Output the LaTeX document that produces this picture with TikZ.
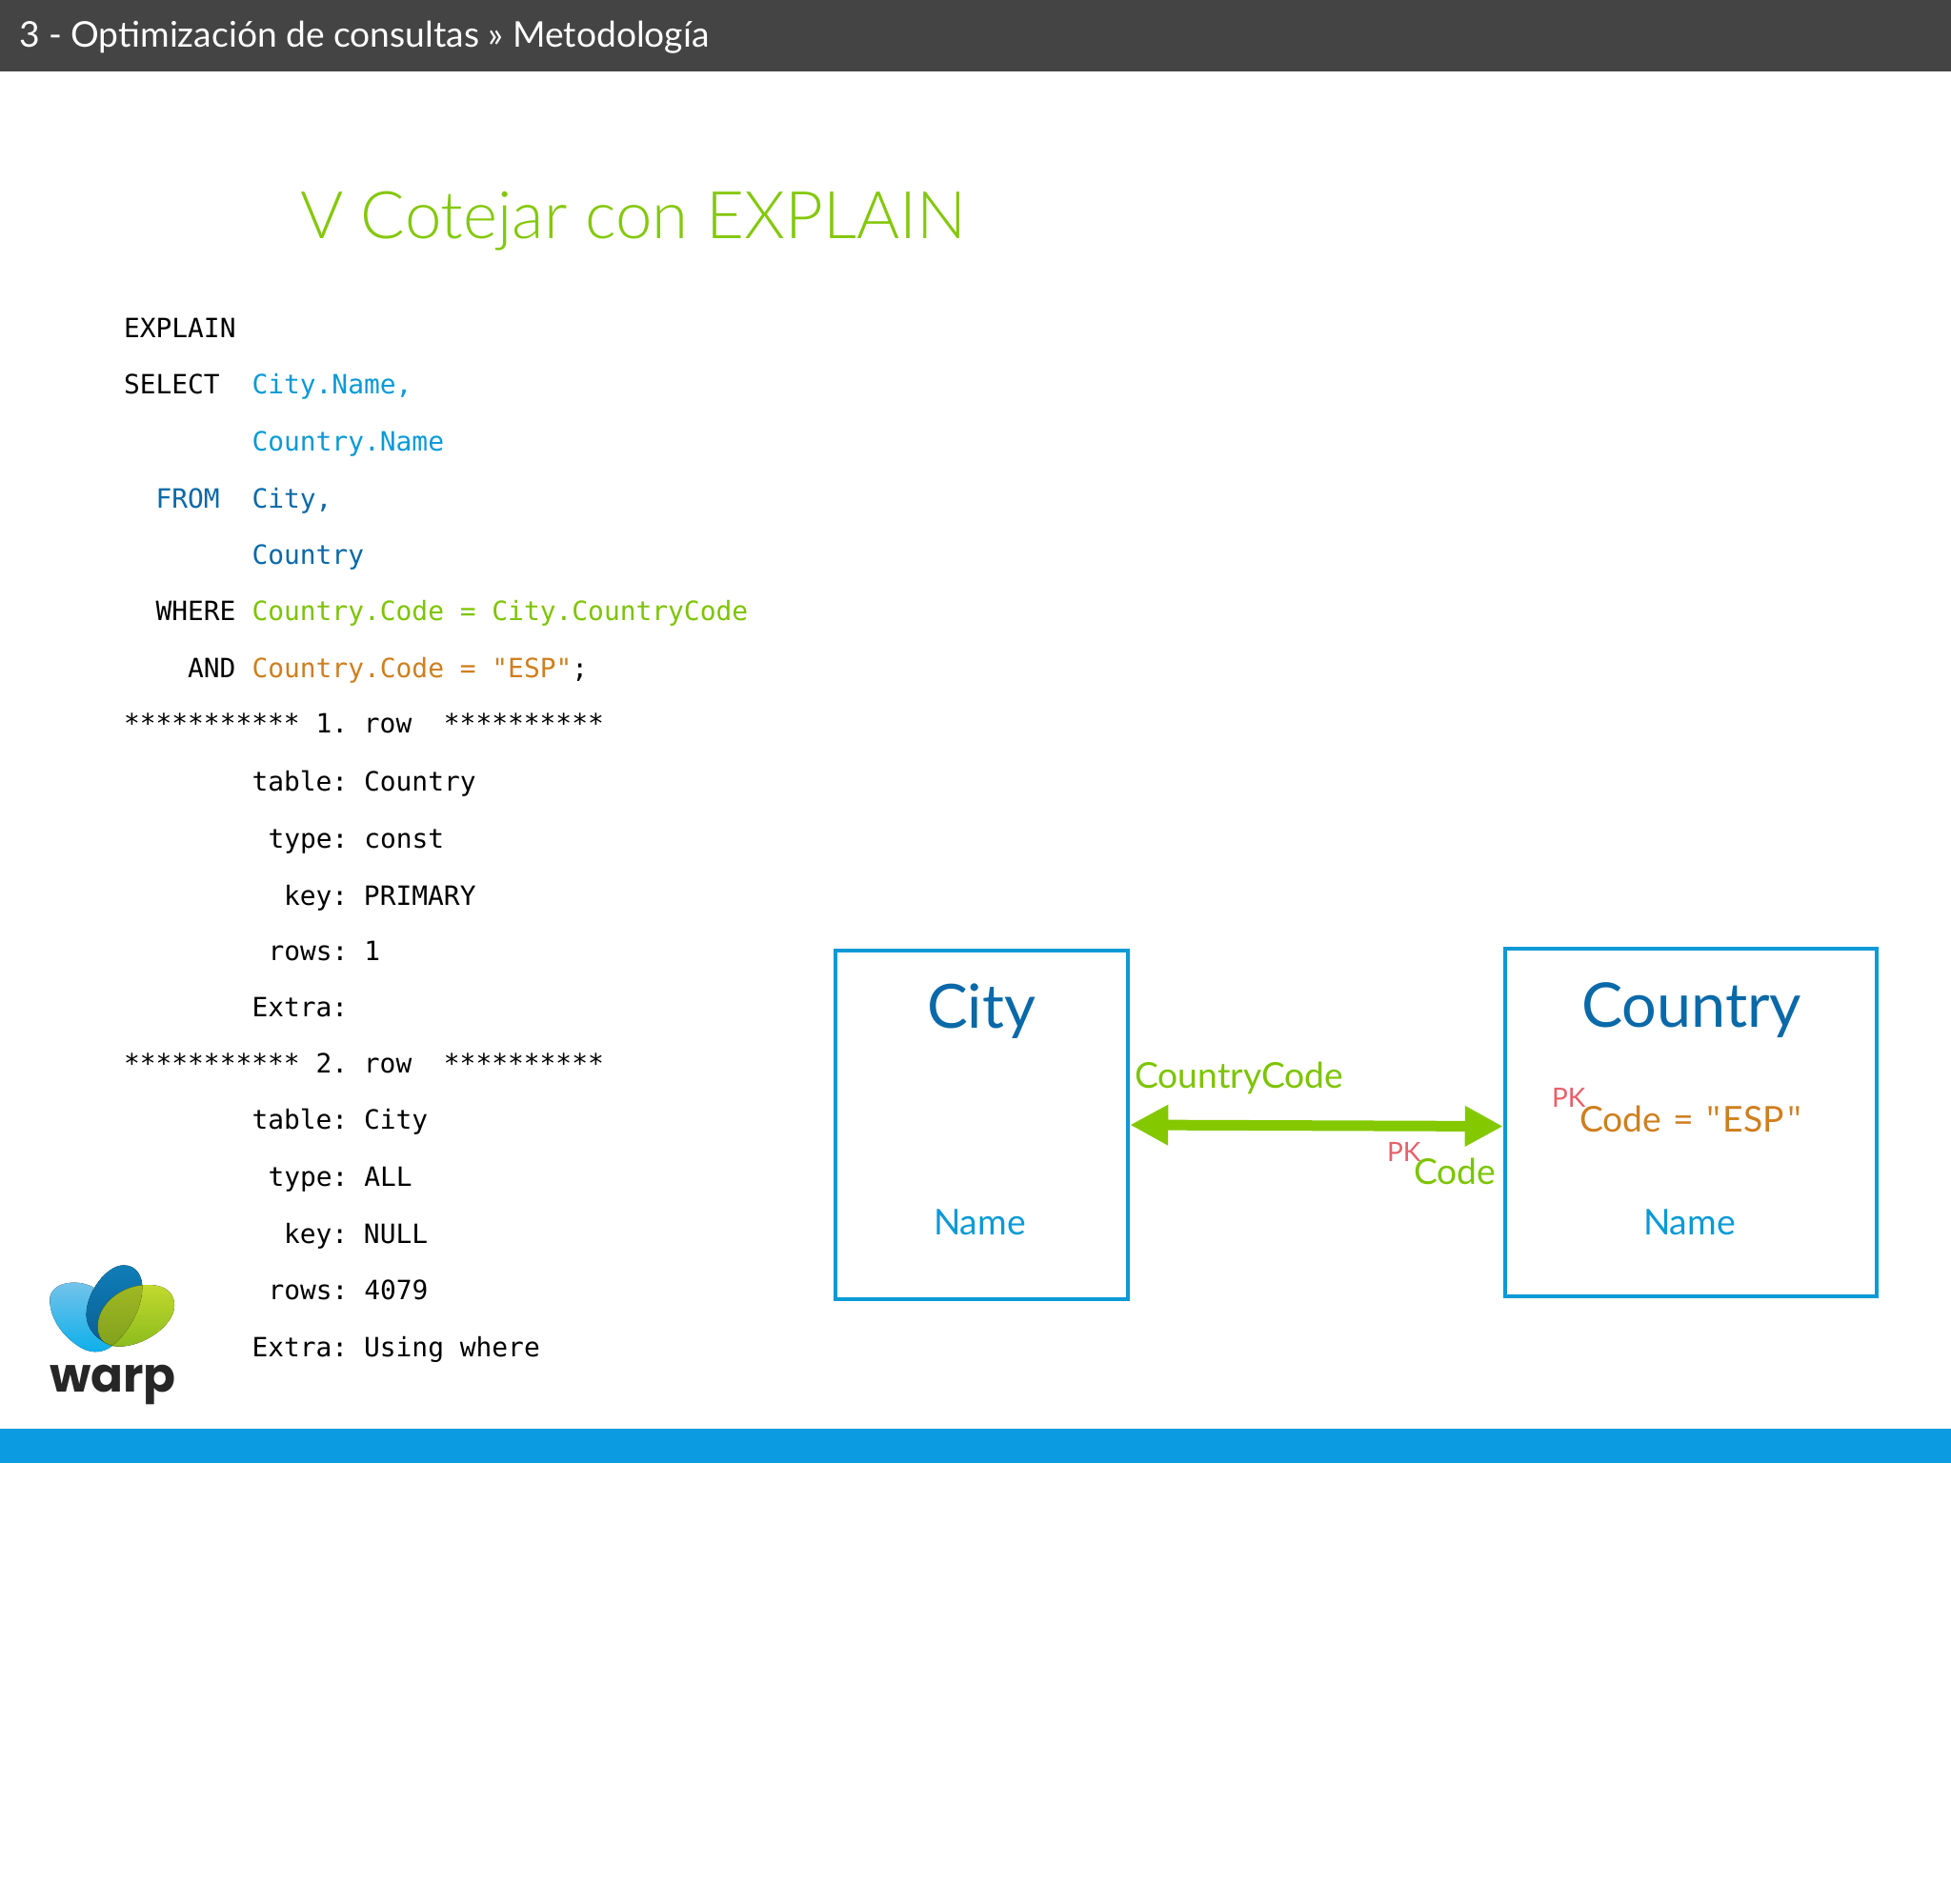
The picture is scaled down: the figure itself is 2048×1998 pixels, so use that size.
\documentclass[tikz,border=0pt]{standalone}
\usepackage{fontspec}
\setmainfont{Lato}
\newfontfamily\lightfont{Lato Light}
\newfontfamily\quotefont{Open Sans}
\setmonofont{DejaVu Sans Mono}
\newfontfamily\logofont{Poppins}
\usetikzlibrary{arrows.meta,calc}
\definecolor{hdr}{HTML}{444444}
\definecolor{barblue}{HTML}{0A9BE0}
\definecolor{lblue}{HTML}{0A9AD6}
\definecolor{dblue}{HTML}{0A69A8}
\definecolor{lgreen}{HTML}{7DC400}
\definecolor{arrowgreen}{HTML}{84C800}
\definecolor{titlegreen}{HTML}{84C80A}
\definecolor{orng}{HTML}{CF7F1E}
\definecolor{pink}{HTML}{E8606A}
\definecolor{lf1}{HTML}{C2D92E}
\definecolor{lf2}{HTML}{8ABB1C}
\definecolor{lo1}{HTML}{A0B822}
\definecolor{lo2}{HTML}{7FA01E}
\definecolor{lb1}{HTML}{79C4EA}
\definecolor{lb2}{HTML}{0AAFEA}
\definecolor{ld1}{HTML}{0F7DB8}
\definecolor{ld2}{HTML}{0B5E92}
\newcommand{\fs}[1]{\fontsize{#1}{#1}\selectfont}
\tikzset{
  txt/.style={anchor=base west,inner sep=0pt,outer sep=0pt},
  code/.style={txt,font=\ttfamily\fs{27.9}},
  lab/.style={txt,font=\fs{37.3}},
  pk/.style={txt,font=\fs{28},text=pink},
  tablebox/.style={draw=lblue,line width=4.5pt,rectangle,inner sep=0pt,fill=none},
  link/.style={draw=arrowgreen,line width=11pt,{Triangle[length=40pt,width=40pt]}-{Triangle[length=40pt,width=40pt]}}
}
\begin{document}
\begin{tikzpicture}[x=1pt,y=-1pt]
\useasboundingbox (0,0) rectangle (2048,1998);
\fill[white] (0,0) rectangle (2048,1998);
\fill[hdr] (0,0) rectangle (2048,75);
\fill[barblue] (0,1500) rectangle (2048,1536);
\node[txt,text=white,font=\fs{37.2}] (head) at (20,49) {3 - Optimización de consultas » Metodología};
\node[txt,text=titlegreen,font=\lightfont\fs{69}] (title) at (315,250) {V Cotejar con EXPLAIN};
% code
\node[code] (c1) at (130,354) {EXPLAIN};
\node[code] (c2) at (130,413) {SELECT};
\node[code,text=lblue] (c2b) at (264.5,413) {City.Name,};
\node[code,text=lblue] (c3) at (264.5,473) {Country.Name};
\node[code,text=dblue] (c4) at (163.5,533) {FROM};
\node[code,text=dblue] (c4b) at (264.5,533) {City,};
\node[code,text=dblue] (c5) at (264.5,592) {Country};
\node[code] (c6) at (163.5,651) {WHERE};
\node[code,text=lgreen] (c6b) at (264.5,651) {Country.Code = City.CountryCode};
\node[code] (c7) at (197,711) {AND};
\node[code,text=orng] (c7b) at (264.5,711) {Country.Code = "ESP"\textcolor{black}{;}};
\node[code] (r1) at (130,769) {*********** 1. row\ \ **********};
\node[code] (r2) at (264.5,830) {table: Country};
\node[code] (r3) at (281.5,890) {type: const};
\node[code] (r4) at (298,950) {key: PRIMARY};
\node[code] (r5) at (281.5,1008) {rows: 1};
\node[code] (r6) at (264.5,1067) {Extra:};
\node[code] (s1) at (130,1126) {*********** 2. row\ \ **********};
\node[code] (s2) at (264.5,1185) {table: City};
\node[code] (s3) at (281.5,1245) {type: ALL};
\node[code] (s4) at (298,1305) {key: NULL};
\node[code] (s5) at (281.5,1364) {rows: 4079};
\node[code] (s6) at (264.5,1424) {Extra: Using where};
% boxes
\node[tablebox,minimum width=307pt,minimum height=366pt] (city) at (1030.5,1181) {};
\node[tablebox,minimum width=390pt,minimum height=365pt] (country) at (1775,1178.5) {};
\draw[link] (city.east) -- ($(country.west)+(0,4)$);
\node[txt,text=dblue,font=\fs{64}] (cityt) at (973,1079) {City};
\node[txt,text=dblue,font=\fs{64.7}] (countryt) at (1660,1078) {Country};
\node[lab,text=lblue] (n1) at (980,1296) {Name};
\node[lab,text=lblue] (n2) at (1725,1296) {Name};
\node[lab,text=lgreen] (cc) at (1191,1142) {CountryCode};
\node[lab,text=orng] (esp) at (1658,1188) {Code\hspace{3pt} =\hspace{3pt} {\quotefont\char34}\hspace{3pt}ESP\hspace{3pt}{\quotefont\char34}};
\node[pk] (pk1) at (1629,1162) {PK};
\node[pk] (pk2) at (1456,1219) {PK};
\node[lab,text=lgreen] (code2) at (1484,1243) {Code};
% logo
\begin{scope}[shift={(0,1300)},x=0.3333pt,y=-0.3333pt]
\fill[top color=lb1,bottom color=lb2]
  (157,190) .. controls (160,140) and (240,125) .. (295,155)
  .. controls (270,210) and (265,270) .. (355,338)
  .. controls (320,365) and (280,365) .. (240,335)
  .. controls (190,300) and (155,245) .. (157,190) -- cycle;
\fill[top color=ld1,bottom color=ld2]
  (272,240) .. controls (272,170) and (335,85) .. (390,85)
  .. controls (430,85) and (450,120) .. (448,160)
  .. controls (445,230) and (400,300) .. (355,338)
  .. controls (310,325) and (272,290) .. (272,240) -- cycle;
\fill[top color=lf1,bottom color=lf2]
  (308,270) .. controls (315,200) and (390,145) .. (470,147)
  .. controls (530,148) and (555,180) .. (548,225)
  .. controls (535,290) and (430,350) .. (360,340)
  .. controls (325,335) and (305,310) .. (308,270) -- cycle;
\begin{scope}
\clip (272,240) .. controls (272,170) and (335,85) .. (390,85)
  .. controls (430,85) and (450,120) .. (448,160)
  .. controls (445,230) and (400,300) .. (355,338)
  .. controls (310,325) and (272,290) .. (272,240) -- cycle;
\fill[top color=lo1,bottom color=lo2]
  (308,270) .. controls (315,200) and (390,145) .. (470,147)
  .. controls (530,148) and (555,180) .. (548,225)
  .. controls (535,290) and (430,350) .. (360,340)
  .. controls (325,335) and (305,310) .. (308,270) -- cycle;
\end{scope}
\end{scope}
\node[txt,font=\logofont\bfseries\fs{50},text=black!85] (warp) at (52,1461) {warp};
\end{tikzpicture}
\end{document}
